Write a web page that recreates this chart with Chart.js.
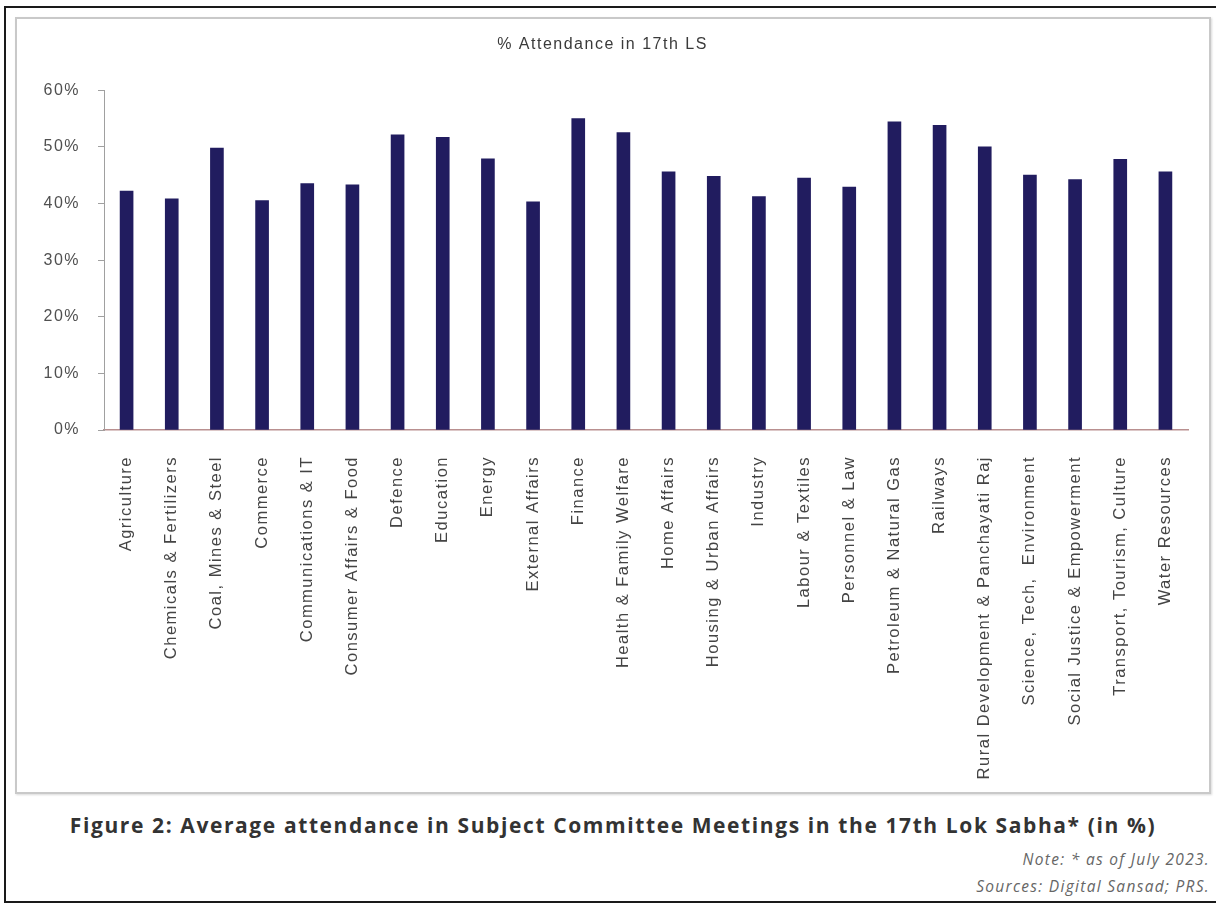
<!DOCTYPE html>
<html>
<head>
<meta charset="utf-8">
<script src="https://cdn.jsdelivr.net/npm/chart.js@4.4.1/dist/chart.umd.min.js"></script>
<style>
  html, body { margin: 0; padding: 0; background: #fff; width: 1216px; height: 907px; overflow: hidden; }
  #frame { position: absolute; left: 4px; top: 6px; width: 1220px; height: 897px; border: 2px solid #1a1a1a; border-right: none; box-sizing: border-box; }
  #box { position: absolute; left: 15px; top: 17px; width: 1196px; height: 777px; border: 2px solid #c9c9c9; box-sizing: border-box; box-shadow: 1px 1px 2px rgba(0,0,0,0.15); background: #fff; }
  #wrap { position: absolute; left: 17px; top: 19px; width: 1191px; height: 772px; }
  #caption { position: absolute; left: 15px; width: 1196px; top: 811px; text-align: center; font-family: "Open Sans", "Noto Sans", sans-serif; font-weight: 700; font-size: 21px; letter-spacing: 1.6px; color: #333; white-space: nowrap; }
  .note { position: absolute; right: 6px; font-family: "Open Sans", "Noto Sans", sans-serif; font-style: italic; font-size: 15.5px; letter-spacing: 1.3px; color: #666; white-space: nowrap; }
</style>
</head>
<body>
<div id="frame"></div>
<div id="box"></div>
<div id="wrap"><canvas id="c" width="1191" height="772"></canvas></div>
<div id="caption">Figure 2: Average attendance in Subject Committee Meetings in the 17th Lok Sabha* (in %)</div>
<div class="note" style="top:848px;">Note: * as of July 2023.</div>
<div class="note" style="top:875px;">Sources: Digital Sansad; PRS.</div>
<script>
const chartTitle = "% Attendance in 17th LS";
const categories = [
  "Agriculture", "Chemicals & Fertilizers", "Coal, Mines & Steel", "Commerce",
  "Communications & IT", "Consumer Affairs & Food", "Defence", "Education",
  "Energy", "External Affairs", "Finance", "Health & Family Welfare",
  "Home Affairs", "Housing & Urban Affairs", "Industry", "Labour & Textiles",
  "Personnel & Law", "Petroleum & Natural Gas", "Railways",
  "Rural Development & Panchayati Raj", "Science, Tech,  Environment",
  "Social Justice & Empowerment", "Transport, Tourism, Culture", "Water Resources"
];
const attendance = [
  42.2, 40.8, 49.8, 40.5,
  43.5, 43.3, 52.1, 51.7,
  47.9, 40.3, 55.0, 52.5,
  45.6, 44.8, 41.2, 44.5,
  42.9, 54.4, 53.8,
  50.0, 45.0,
  44.2, 47.8, 45.6
];
const yTicks = [0, 10, 20, 30, 40, 50, 60];

const spacing = {
  id: 'spacing',
  beforeLayout(chart) { chart.ctx.letterSpacing = '1.5px'; },
  beforeDraw(chart) { chart.ctx.letterSpacing = '1.5px'; }
};

const FONT = "'Liberation Sans', Arial, sans-serif";

new Chart(document.getElementById('c'), {
  type: 'bar',
  data: {
    labels: categories,
    datasets: [{
      label: chartTitle,
      data: attendance,
      backgroundColor: '#211c5f',
      borderWidth: 0,
      barThickness: 13
    }]
  },
  options: {
    responsive: false,
    animation: false,
    layout: { padding: { left: 0, right: 20, top: 0, bottom: 0 } },
    plugins: {
      legend: { display: false },
      tooltip: { enabled: false },
      title: {
        display: true,
        text: chartTitle,
        color: '#3a3a3a',
        font: { family: FONT, size: 16, weight: 'normal' },
        padding: { top: 16, bottom: 36 }
      }
    },
    scales: {
      x: {
        grid: { display: false },
        border: { display: true, color: '#b99090', width: 1.5 },
        ticks: {
          autoSkip: false,
          maxRotation: 90,
          minRotation: 90,
          padding: 18,
          color: '#444',
          font: { family: FONT, size: 16.5 }
        },
        afterFit(scale) { scale.height = 361; }
      },
      y: {
        min: 0,
        max: 60,
        afterBuildTicks(scale) { scale.ticks = yTicks.map(v => ({ value: v })); },
        grid: { display: true, drawOnChartArea: false, drawTicks: true, tickLength: 6, color: '#a0a0a0' },
        border: { display: true, color: '#a0a0a0', width: 1 },
        ticks: {
          padding: 18,
          color: '#505050',
          font: { family: FONT, size: 16 },
          callback: v => v + '%'
        },
        afterFit(scale) { scale.width = 87; }
      }
    }
  },
  plugins: [spacing]
});
</script>
</body>
</html>
